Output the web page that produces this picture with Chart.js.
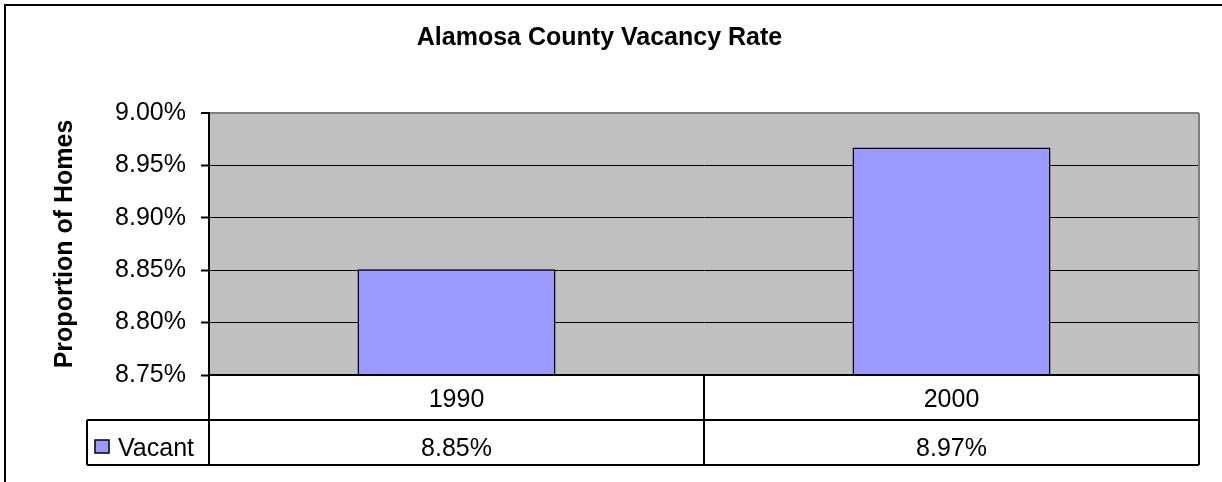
<!DOCTYPE html>
<html lang="en">
<head>
  <meta charset="UTF-8">
  <title>Alamosa County Vacancy Rate</title>
  <script src="https://cdn.jsdelivr.net/npm/chart.js"></script>
</head>
<style>
  body {
      margin: 0;
      background: #fff;
  }

  .wrap {
      width: 1222px;
      height: 482px;
      position: relative;
  }
</style>

<body>
  <div class="wrap"><canvas id="grafico"></canvas></div>

<script>

  // data
  const anos = ['1990', '2000'];
  const vacant = [8.851, 8.967];
  const serieNome = 'Vacant';
  const eixoMin = 8.75;
  const eixoMax = 9.00;
  const eixoPasso = 0.05;

  const fonte = "'Liberation Sans', Arial, sans-serif";
  const corBarra = '#9999FF';

  // gray plot area + frame
  const fundoPlot = {
    id: 'fundoPlot',
    beforeDraw(chart) {
      const { ctx, chartArea: a } = chart;
      ctx.save();
      ctx.fillStyle = '#C0C0C0';
      ctx.fillRect(a.left, a.top, a.right - a.left, a.bottom - a.top);
      ctx.restore();
    },
    afterDraw(chart) {
      const { ctx, chartArea: a } = chart;
      ctx.save();
      // right border of plot
      ctx.strokeStyle = '#808080';
      ctx.lineWidth = 2;
      ctx.beginPath();
      ctx.moveTo(a.right, a.top);
      ctx.lineTo(a.right, a.bottom);
      ctx.stroke();
      // outer frame (cropped at right and bottom)
      ctx.strokeStyle = '#000';
      ctx.beginPath();
      ctx.moveTo(5, 482);
      ctx.lineTo(5, 5);
      ctx.lineTo(1222, 5);
      ctx.stroke();
      ctx.restore();
    }
  };

  // data table under the plot
  const tabela = {
    id: 'tabela',
    afterDraw(chart) {
      const { ctx, chartArea: a } = chart;
      const n = anos.length;
      const larg = (a.right - a.left) / n;
      const y0 = a.bottom, y1 = a.bottom + 45, y2 = a.bottom + 90;
      const xLeg = 87;

      ctx.save();
      ctx.strokeStyle = '#000';
      ctx.lineWidth = 2;
      ctx.beginPath();
      ctx.moveTo(a.left, y0); ctx.lineTo(a.right, y0);
      ctx.moveTo(xLeg, y1); ctx.lineTo(a.right, y1);
      ctx.moveTo(xLeg, y2); ctx.lineTo(a.right, y2);
      ctx.moveTo(xLeg, y1); ctx.lineTo(xLeg, y2);
      for (let i = 0; i <= n; i++) {
        const x = a.left + i * larg;
        ctx.moveTo(x, y0); ctx.lineTo(x, y2);
      }
      ctx.stroke();

      ctx.fillStyle = '#000';
      ctx.font = '25px ' + fonte;
      ctx.textAlign = 'center';
      ctx.textBaseline = 'alphabetic';
      for (let i = 0; i < n; i++) {
        const cx = a.left + (i + 0.5) * larg;
        ctx.fillText(anos[i], cx, y0 + 32);
        ctx.fillText(vacant[i].toFixed(2) + '%', cx, y1 + 36);
      }

      // legend key
      ctx.fillStyle = corBarra;
      ctx.fillRect(95, y1 + 20, 14, 13);
      ctx.lineWidth = 1.5;
      ctx.strokeRect(95, y1 + 20, 14, 13);
      ctx.fillStyle = '#000';
      ctx.textAlign = 'left';
      ctx.fillText(serieNome, 118, y1 + 36);
      ctx.restore();
    }
  };

  const ctx = document.getElementById('grafico').getContext('2d');

  new Chart(ctx, {
    type: 'bar',
    data: {
      labels: anos,
      datasets: [{
        label: serieNome,
        data: vacant,
        backgroundColor: corBarra,
        borderColor: '#000',
        borderWidth: 1.5,
        borderSkipped: false,
        barPercentage: 0.4,
        categoryPercentage: 1.0
      }]
    },
    options: {
      responsive: true,
      maintainAspectRatio: false,
      animation: false,
      layout: {
        padding: { top: 0, right: 23, bottom: 107, left: 0 }
      },
      plugins: {
        legend: { display: false },
        tooltip: { enabled: false },
        title: {
          display: true,
          text: 'Alamosa County Vacancy Rate',
          color: '#000',
          font: { family: fonte, size: 25, weight: 'bold', lineHeight: 1.2 },
          padding: { top: 23, bottom: 60 }
        }
      },
      scales: {
        x: {
          display: false
        },
        y: {
          min: eixoMin,
          max: eixoMax,
          afterFit(scale) { scale.width = 209; },
          border: { color: '#000', width: 2 },
          grid: {
            color: (c) => (c.tick && Math.abs(c.tick.value - eixoMax) < 1e-6) ? '#808080' : '#000',
            lineWidth: (c) => (c.tick && Math.abs(c.tick.value - eixoMax) < 1e-6) ? 2 : 1,
            tickColor: '#000',
            tickWidth: 2,
            tickLength: 8
          },
          ticks: {
            stepSize: eixoPasso,
            padding: 15,
            color: '#000',
            font: { family: fonte, size: 25 },
            callback: (v) => Number(v).toFixed(2) + '%'
          },
          title: {
            display: true,
            text: 'Proportion of Homes',
            color: '#000',
            font: { family: fonte, size: 25, weight: 'bold', lineHeight: 1.2 },
            padding: { top: 50, bottom: 0 }
          }
        }
      }
    },
    plugins: [fundoPlot, tabela]
  });

</script>
</body>
</html>
